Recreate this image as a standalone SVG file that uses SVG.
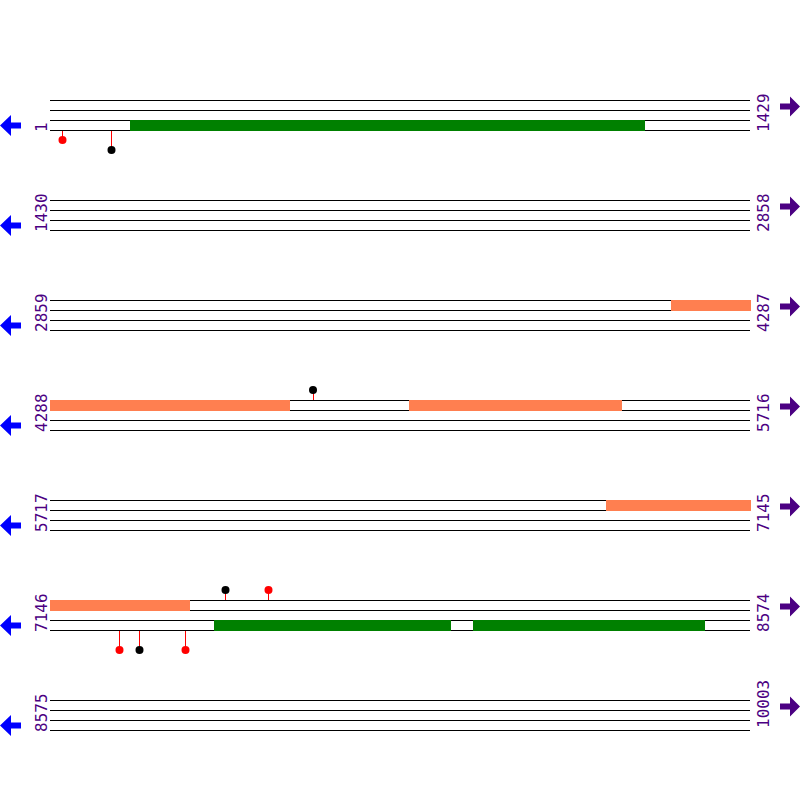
<svg xmlns="http://www.w3.org/2000/svg" width="800" height="800" viewBox="0 0 800 800">
<defs>
<style>
.ln{stroke:#000;stroke-width:1;fill:none}
.lab{font-family:"DejaVu Sans Mono",monospace;font-size:16px;fill:#4B0082}
.green{fill:#008000}
.orange{fill:#FF7F50}
.stick{stroke:#FF0000;stroke-width:1}
.hr{fill:#FF0000}
.hb{fill:#000}
.la{fill:#0000FF}
.ra{fill:#4B0082}
</style>
<path id="larrow" d="M0,0 L11,-10.5 L11,-3 L21,-3 L21,3 L11,3 L11,10.5 Z"/>
<path id="rarrow" d="M0,0 L-10,-10 L-10,-3 L-20,-3 L-20,3 L-10,3 L-10,10 Z"/>
<g id="lines">
<path class="ln" d="M50,100.5H750M50,110.5H750M50,120.5H750M50,130.5H750"/>
</g>
</defs>
<rect width="800" height="800" fill="#fff"/>

<g id="row0">
<use href="#lines"/>
<rect class="green" x="130" y="120" width="515" height="11"/>
<text class="lab" transform="translate(47,132) rotate(-90)">1</text>
<text class="lab" transform="translate(769,132) rotate(-90)">1429</text>
<use href="#larrow" class="la" x="0" y="125.5"/>
<use href="#rarrow" class="ra" x="800" y="106.5"/>
</g>
<g id="row1">
<use href="#lines" y="100"/>
<text class="lab" transform="translate(47,232) rotate(-90)">1430</text>
<text class="lab" transform="translate(769,232) rotate(-90)">2858</text>
<use href="#larrow" class="la" x="0" y="225.5"/>
<use href="#rarrow" class="ra" x="800" y="206.5"/>
</g>
<g id="row2">
<use href="#lines" y="200"/>
<rect class="orange" x="671" y="300" width="80" height="11"/>
<text class="lab" transform="translate(47,332) rotate(-90)">2859</text>
<text class="lab" transform="translate(769,332) rotate(-90)">4287</text>
<use href="#larrow" class="la" x="0" y="325.5"/>
<use href="#rarrow" class="ra" x="800" y="306.5"/>
</g>
<g id="row3">
<use href="#lines" y="300"/>
<rect class="orange" x="50" y="400" width="240" height="11"/>
<rect class="orange" x="409" y="400" width="213" height="11"/>
<text class="lab" transform="translate(47,432) rotate(-90)">4288</text>
<text class="lab" transform="translate(769,432) rotate(-90)">5716</text>
<use href="#larrow" class="la" x="0" y="425.5"/>
<use href="#rarrow" class="ra" x="800" y="406.5"/>
</g>
<g id="row4">
<use href="#lines" y="400"/>
<rect class="orange" x="606" y="500" width="145" height="11"/>
<text class="lab" transform="translate(47,532) rotate(-90)">5717</text>
<text class="lab" transform="translate(769,532) rotate(-90)">7145</text>
<use href="#larrow" class="la" x="0" y="525.5"/>
<use href="#rarrow" class="ra" x="800" y="506.5"/>
</g>
<g id="row5">
<use href="#lines" y="500"/>
<rect class="orange" x="50" y="600" width="140" height="11"/>
<rect class="green" x="214" y="620" width="237" height="11"/>
<rect class="green" x="473" y="620" width="232" height="11"/>
<text class="lab" transform="translate(47,632) rotate(-90)">7146</text>
<text class="lab" transform="translate(769,632) rotate(-90)">8574</text>
<use href="#larrow" class="la" x="0" y="625.5"/>
<use href="#rarrow" class="ra" x="800" y="606.5"/>
</g>
<g id="row6">
<use href="#lines" y="600"/>
<text class="lab" transform="translate(47,732) rotate(-90)">8575</text>
<text class="lab" transform="translate(769,728) rotate(-90)">10003</text>
<use href="#larrow" class="la" x="0" y="725.5"/>
<use href="#rarrow" class="ra" x="800" y="706.5"/>
</g>

<g id="lollipops">
<path class="stick" d="M62.5,131V140M111.5,131V150M313.5,390V400M225.5,590V600M268.5,590V600M119.5,631V650M139.5,631V650M185.5,631V650"/>
<circle class="hr" cx="62.5" cy="140" r="4"/>
<circle class="hb" cx="111.5" cy="150" r="4"/>
<circle class="hb" cx="313" cy="390" r="4"/>
<circle class="hb" cx="225.5" cy="590" r="4"/>
<circle class="hr" cx="268.5" cy="590" r="4"/>
<circle class="hr" cx="119.5" cy="650" r="4"/>
<circle class="hb" cx="139.5" cy="650" r="4"/>
<circle class="hr" cx="185.5" cy="650" r="4"/>
</g>
</svg>
